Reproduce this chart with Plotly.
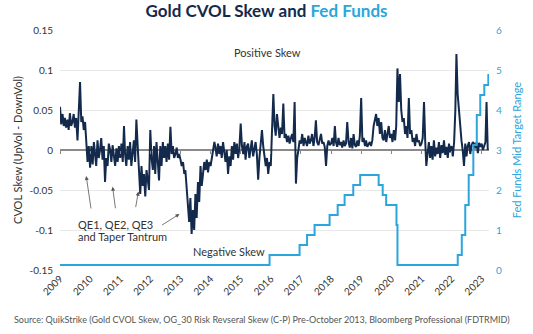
import plotly.graph_objects as go

# ---- Data -------------------------------------------------------------
# Gold CVOL skew, semi-monthly readings (1st and 16th of each month)
skew_2009 = [0.054, 0.032, 0.045, 0.030, 0.040, 0.028, 0.038, 0.025, 0.046, 0.030, 0.035, 0.045,
             0.028, 0.040, 0.012, 0.040, 0.085, 0.035, 0.042, 0.025, 0.035, 0.010, -0.015, 0.005]
skew_2010 = [-0.022, 0.005, -0.018, 0.010, -0.005, -0.020, 0.012, -0.010, 0.000, 0.015, -0.012, 0.005,
             -0.040, -0.010, -0.020, 0.008, 0.000, -0.015, 0.006, -0.010, -0.020, 0.002, -0.015, 0.005]
skew_2011 = [-0.010, 0.008, -0.015, 0.030, -0.005, -0.020, 0.005, -0.012, 0.010, -0.020, -0.005, 0.012,
             -0.015, 0.038, 0.005, -0.030, -0.055, -0.020, -0.045, -0.030, -0.058, -0.025, -0.035, -0.050]
skew_2012 = [0.025, -0.010, -0.025, 0.005, -0.030, 0.010, -0.015, -0.038, 0.005, -0.020, 0.010, -0.010,
             0.005, -0.015, 0.008, -0.012, 0.029, -0.005, 0.005, -0.010, -0.005, 0.003, -0.010, -0.005]
skew_2013 = [-0.012, -0.020, -0.015, -0.030, -0.025, -0.050, -0.070, -0.090, -0.060, -0.105, -0.075, -0.100,
             -0.055, -0.085, -0.040, -0.065, -0.020, -0.045, -0.030, -0.015, -0.025, -0.012, -0.028, -0.015]
skew_2014 = [-0.020, -0.010, 0.000, 0.010, 0.003, -0.008, 0.008, -0.005, 0.005, -0.010, 0.010, -0.005,
             -0.015, 0.000, -0.030, -0.008, -0.020, 0.005, -0.012, 0.010, -0.005, 0.008, -0.010, 0.002]
skew_2015 = [0.033, 0.005, -0.005, 0.010, -0.012, 0.004, 0.008, -0.010, 0.000, 0.012, -0.008, 0.005,
             0.010, -0.005, -0.037, -0.010, 0.012, 0.025, 0.005, -0.010, -0.020, -0.010, -0.030, -0.015]
skew_2016 = [-0.020, 0.025, 0.070, 0.030, 0.018, 0.045, 0.025, 0.015, 0.028, 0.020, 0.058, 0.015,
             0.020, 0.010, 0.018, 0.008, 0.015, 0.020, 0.010, 0.060, -0.042, -0.010, 0.000, 0.012]
skew_2017 = [0.008, 0.020, 0.005, 0.015, 0.010, 0.005, 0.018, 0.008, 0.012, 0.020, 0.005, 0.015,
             0.037, 0.010, 0.006, 0.015, 0.020, 0.008, 0.010, 0.004, -0.020, 0.005, 0.012, 0.006]
skew_2018 = [0.008, 0.015, 0.005, 0.030, 0.010, 0.004, 0.015, 0.006, 0.010, 0.003, 0.012, 0.005,
             0.008, 0.035, 0.010, 0.003, 0.015, 0.002, 0.020, 0.006, 0.004, 0.012, 0.005, 0.018]
skew_2019 = [0.065, 0.010, 0.015, 0.005, 0.012, 0.004, 0.008, 0.010, 0.005, 0.012, 0.030, 0.040,
             0.045, 0.030, 0.040, 0.020, 0.035, 0.015, 0.012, 0.025, 0.010, 0.020, 0.030, 0.015]
skew_2020 = [0.020, 0.010, 0.025, 0.012, 0.030, 0.102, 0.060, 0.095, 0.050, 0.035, 0.040, 0.020,
             0.030, 0.015, 0.065, 0.020, 0.025, 0.010, 0.015, 0.005, 0.020, 0.010, 0.012, 0.005]
skew_2021 = [0.008, 0.015, 0.060, 0.010, -0.020, -0.005, 0.010, -0.010, 0.005, -0.012, 0.012, -0.008,
             0.003, -0.005, 0.010, -0.010, 0.006, -0.004, 0.012, -0.006, 0.004, -0.010, 0.008, -0.003]
skew_2022 = [0.005, -0.008, 0.010, 0.050, 0.120, 0.070, 0.045, 0.025, 0.012, 0.000, -0.020, 0.008,
             -0.008, 0.005, 0.010, -0.005, 0.006, 0.010, 0.008, 0.002, 0.010, -0.004, 0.009, 0.004]
skew_2023 = [0.008, 0.000, 0.005, 0.010, 0.060, 0.000]

skew_values = (skew_2009 + skew_2010 + skew_2011 + skew_2012 + skew_2013 + skew_2014 +
               skew_2015 + skew_2016 + skew_2017 + skew_2018 + skew_2019 + skew_2020 +
               skew_2021 + skew_2022 + skew_2023)
skew_dates = []
for yr in range(2009, 2024):
    for m in range(1, 13):
        for d in (1, 16):
            skew_dates.append(f"{yr}-{m:02d}-{d:02d}")
skew_dates = skew_dates[:len(skew_values)]

# Fed funds mid target range (step changes)
fed_dates = ["2009-01-01", "2015-12-17", "2016-12-15", "2017-03-16", "2017-06-15", "2017-12-14",
             "2018-03-22", "2018-06-14", "2018-09-27", "2018-12-20", "2019-08-01", "2019-09-19",
             "2019-10-31", "2020-03-04", "2020-03-16", "2022-03-17", "2022-05-05", "2022-06-16",
             "2022-07-28", "2022-09-22", "2022-11-03", "2022-12-15", "2023-02-02", "2023-03-23",
             "2023-03-31"]
fed_values = [0.125, 0.375, 0.625, 0.875, 1.125, 1.375, 1.625, 1.875, 2.125, 2.375, 2.125, 1.875,
              1.625, 1.125, 0.125, 0.375, 0.875, 1.625, 2.375, 3.125, 3.875, 4.375, 4.625, 4.875,
              4.875]

left_ticks = [-0.15, -0.1, -0.05, 0, 0.05, 0.1, 0.15]
left_ticktext = ["-0.15", "-0.1", "-0.05", "0", "0.05", "0.1", "0.15"]
right_ticks = [0, 1, 2, 3, 4, 5, 6]
year_ticks = [f"{y}-01-01" for y in range(2009, 2024)]
year_labels = [str(y) for y in range(2009, 2024)]

NAVY = "#132a4c"
BLUE = "#2ba6dc"
FONT = "Lato"

fig = go.Figure()
fig.add_trace(go.Scatter(x=fed_dates, y=fed_values, mode="lines", line=dict(color=BLUE, width=2, shape="hv"),
                         yaxis="y2", name="Fed Funds", hoverinfo="skip"))
fig.add_trace(go.Scatter(x=skew_dates, y=skew_values, mode="lines", line=dict(color=NAVY, width=2),
                         name="Gold CVOL Skew", hoverinfo="skip"))
# invisible trace to host the tick axis drawn along zero
fig.add_trace(go.Scatter(x=[year_ticks[0]], y=[0], xaxis="x2", mode="lines", showlegend=False,
                         line=dict(width=0), hoverinfo="skip"))

x_range = ["2009-01-01", "2023-03-31"]

fig.update_layout(
    width=533, height=334,
    margin=dict(l=60, r=44, t=30, b=64),
    paper_bgcolor="white", plot_bgcolor="white",
    showlegend=False,
    font=dict(family=FONT, color="#333333", size=10),
    title=dict(text=f"<b><span style='color:{NAVY}'>Gold CVOL Skew and </span><span style='color:{BLUE}'>Fed Funds</span></b>",
               x=0.5, xanchor="center", y=0.967, yanchor="middle", font=dict(size=17, family=FONT)),
    xaxis=dict(type="date", range=x_range, tickmode="array", tickvals=year_ticks, ticktext=year_labels,
               tickangle=-45, showgrid=False, zeroline=False, showline=False, ticks="",
               tickfont=dict(size=10, color="#333333")),
    xaxis2=dict(type="date", range=x_range, overlaying="x", anchor="free", position=0.5,
                tickmode="array", tickvals=year_ticks, showticklabels=False, ticks="outside",
                ticklen=3, tickcolor="#888888", tickwidth=1, showgrid=False, zeroline=False, showline=False),
    yaxis=dict(range=[-0.15, 0.15], tickmode="array", tickvals=left_ticks, ticktext=left_ticktext,
               showgrid=True, gridcolor="#e8e8e8", gridwidth=1, zeroline=True, zerolinecolor="#8a8a8a",
               zerolinewidth=2, showline=False, ticks="", tickfont=dict(size=10, color="#333333"),
               ticklabelstandoff=6,
               title=dict(text="CVOL Skew (UpVol - DownVol)", font=dict(size=11, color="#333333"), standoff=4)),
    yaxis2=dict(range=[0, 6], overlaying="y", side="right", tickmode="array", tickvals=right_ticks,
                showgrid=False, zeroline=False, showline=False, ticks="",
                tickfont=dict(size=10, color=BLUE), ticklabelstandoff=6,
                title=dict(text="Fed Funds Mid Target Range", font=dict(size=11, color=BLUE), standoff=12)),
)

ann_font = dict(family=FONT, size=11, color="#333333")
fig.add_annotation(text="Positive Skew", xref="paper", yref="paper", x=0.483, y=0.905,
                   showarrow=False, font=ann_font, xanchor="center", yanchor="middle")
fig.add_annotation(text="Negative Skew", xref="paper", yref="paper", x=0.394, y=0.077,
                   showarrow=False, font=ann_font, xanchor="center", yanchor="middle")
fig.add_annotation(text="QE1, QE2, QE3", xref="paper", yref="paper", x=0.037, y=0.188,
                   showarrow=False, font=ann_font, xanchor="left", yanchor="middle")
fig.add_annotation(text="and Taper Tantrum", xref="paper", yref="paper", x=0.037, y=0.139,
                   showarrow=False, font=ann_font, xanchor="left", yanchor="middle")

arrow_x = ["2009-11-15", "2010-10-01", "2011-08-10", "2012-12-20"]
arrow_y = [-0.0325, -0.046, -0.052, -0.080]
arrow_ax = [5, 3, -3, -19]
arrow_ay = [34, 23, 17, 12]
for xh, yh, ax, ay in zip(arrow_x, arrow_y, arrow_ax, arrow_ay):
    fig.add_annotation(x=xh, y=yh, xref="x", yref="y", text="", showarrow=True, ax=ax, ay=ay,
                       arrowhead=2, arrowsize=1, arrowwidth=0.8, arrowcolor="#555555")

fig.add_annotation(text="Source: QuikStrike (Gold CVOL Skew, OG_30 Risk Revseral Skew (C-P) Pre-October 2013, Bloomberg Professional (FDTRMID)",
                   xref="paper", yref="paper", x=-0.112, y=-0.208, xanchor="left", yanchor="middle",
                   showarrow=False, font=dict(family=FONT, size=9, color="#555555"))

fig.write_html("out.html")
